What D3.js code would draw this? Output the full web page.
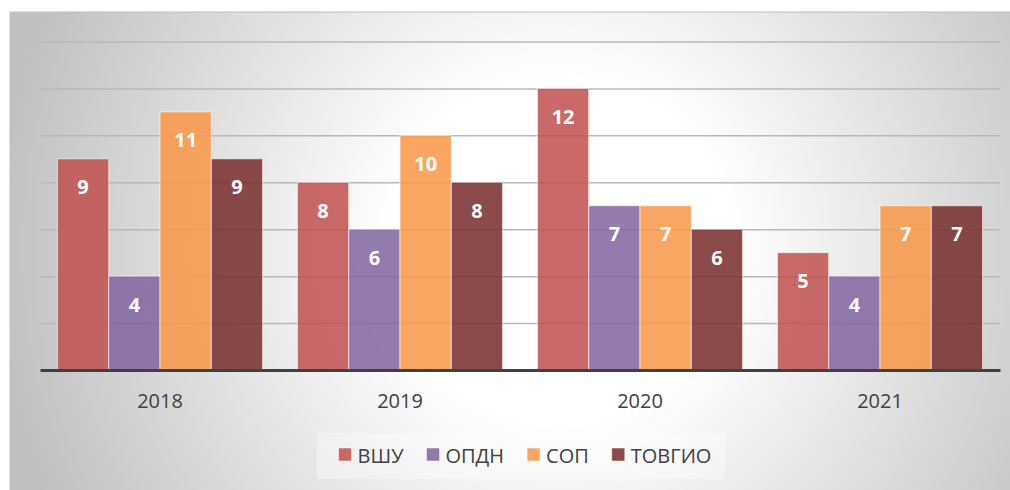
<!DOCTYPE html>
<html>
<head>
<meta charset="utf-8">
<script src="https://cdn.jsdelivr.net/npm/d3@7"></script>
<style>
  body { margin: 0; background: #ffffff; }
  svg { display: block; font-family: "Open Sans", sans-serif; }
</style>
</head>
<body>
<div id="chart-area"></div>
<script>
// data
const years = ["2018", "2019", "2020", "2021"];
const seriesNames = ["ВШУ", "ОПДН", "СОП", "ТОВГИО"];
const vshu = [9, 8, 12, 5];
const opdn = [4, 6, 7, 4];
const sop = [11, 10, 7, 7];
const tovgio = [9, 8, 6, 7];
const yTicks = [0, 2, 4, 6, 8, 10, 12, 14];
const colors = ["#c0504d", "#8064a2", "#f79646", "#772c2a"];

const seriesValues = [vshu, opdn, sop, tovgio];

const W = 1010, H = 490;
const margin = {left: 40, right: 10, top: 41.5, bottom: 120};
const width = W - margin.left - margin.right;
const height = H - margin.top - margin.bottom;

const svg = d3.select("#chart-area")
  .append("svg")
    .attr("width", W)
    .attr("height", H);

// background gradient (circular, in pixels)
const defs = svg.append("defs");
const grad = defs.append("radialGradient")
  .attr("id", "bg")
  .attr("gradientUnits", "userSpaceOnUse")
  .attr("cx", 560)
  .attr("cy", 250)
  .attr("r", 570);
grad.append("stop").attr("offset", "0%").attr("stop-color", "#ffffff");
grad.append("stop").attr("offset", "30%").attr("stop-color", "#ffffff");
grad.append("stop").attr("offset", "100%").attr("stop-color", "#c0c0c0");

svg.append("rect")
  .attr("x", 10)
  .attr("y", 12)
  .attr("width", 1002)
  .attr("height", 480)
  .attr("fill", "url(#bg)")
  .attr("stroke", "#bdbdbd")
  .attr("stroke-width", 1);

const g = svg.append("g")
  .attr("transform", "translate(" + margin.left + "," + margin.top + ")");

// scales
const x = d3.scaleBand()
  .domain(years)
  .range([0, width]);

const x1 = d3.scaleBand()
  .domain(seriesNames)
  .range([0, x.bandwidth()])
  .paddingOuter(0.34)
  .paddingInner(0);

const y = d3.scaleLinear()
  .domain([0, 14])
  .range([height, 0]);

// gridlines
const yGrid = d3.axisLeft(y)
  .tickValues(yTicks.filter(d => d > 0))
  .tickSize(-width)
  .tickFormat("");
g.append("g")
  .attr("class", "grid")
  .call(yGrid)
  .call(s => s.select(".domain").remove())
  .call(s => s.selectAll("line")
    .attr("stroke", "#b8b8b8")
    .attr("stroke-width", 1.5));

// bars
const groups = g.selectAll(".year")
  .data(years)
  .enter()
  .append("g")
    .attr("class", "year")
    .attr("transform", d => "translate(" + x(d) + ",0)");

groups.selectAll("rect")
  .data((d, i) => seriesNames.map((s, j) => ({series: s, value: seriesValues[j][i], color: colors[j]})))
  .enter()
  .append("rect")
    .attr("x", d => x1(d.series))
    .attr("y", d => y(d.value))
    .attr("width", x1.bandwidth())
    .attr("height", d => height - y(d.value))
    .attr("fill", d => d.color)
    .attr("fill-opacity", 0.85)
    .attr("stroke", "#ffffff")
    .attr("stroke-opacity", 0.6)
    .attr("stroke-width", 1);

groups.selectAll(".lbl")
  .data((d, i) => seriesNames.map((s, j) => ({series: s, value: seriesValues[j][i]})))
  .enter()
  .append("text")
    .attr("class", "lbl")
    .attr("x", d => x1(d.series) + x1.bandwidth() / 2)
    .attr("y", d => y(d.value) + 28)
    .attr("text-anchor", "middle")
    .attr("dominant-baseline", "central")
    .attr("fill", "#ffffff")
    .attr("font-size", "20px")
    .attr("font-weight", "bold")
    .text(d => d.value);

// x axis
const xAxis = d3.axisBottom(x).tickSize(0).tickPadding(24);
g.append("g")
  .attr("class", "bot-axis")
  .attr("transform", "translate(0," + height + ")")
  .call(xAxis)
  .call(s => s.select(".domain")
    .attr("stroke", "#404040")
    .attr("stroke-width", 3))
  .call(s => s.selectAll("text")
    .attr("fill", "#404040")
    .attr("font-size", "20px")
    .attr("font-family", "Open Sans, sans-serif"));

// legend
svg.append("rect")
  .attr("x", 317)
  .attr("y", 433)
  .attr("width", 408)
  .attr("height", 46)
  .attr("fill", "#ffffff")
  .attr("fill-opacity", 0.35);

const legend = svg.append("g");
let cursor = 0;
seriesNames.forEach((name, i) => {
  let row = legend.append("g")
    .attr("transform", "translate(" + cursor + ",0)");
  row.append("rect")
    .attr("x", 0)
    .attr("y", 448)
    .attr("width", 13)
    .attr("height", 13)
    .attr("fill", colors[i])
    .attr("fill-opacity", 0.85)
    .attr("stroke", "#ffffff")
    .attr("stroke-opacity", 0.5);
  let t = row.append("text")
    .attr("x", 19)
    .attr("y", 455)
    .attr("dominant-baseline", "central")
    .attr("fill", "#404040")
    .attr("font-size", "20px")
    .text(name);
  cursor += 19 + t.node().getComputedTextLength() + 23;
});
const legendWidth = cursor - 23;
legend.attr("transform", "translate(" + (525 - legendWidth / 2) + ",0)");
</script>
</body>
</html>
